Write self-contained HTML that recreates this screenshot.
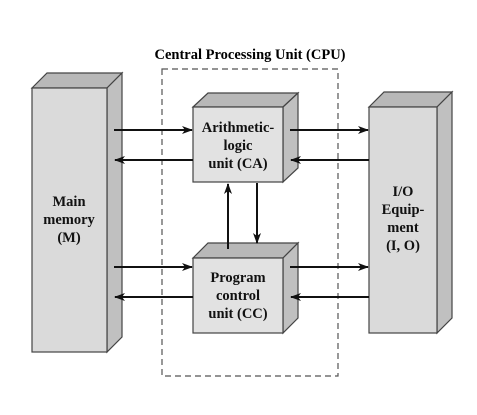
<!DOCTYPE html>
<html><head><style>
html,body{margin:0;padding:0;background:#fff;width:477px;height:415px;overflow:hidden}
</style></head><body>
<svg width="477" height="415" viewBox="0 0 477 415" xmlns="http://www.w3.org/2000/svg" font-family="Liberation Serif, serif" font-weight="bold" font-size="14.5">
<defs>
<marker id="a" markerWidth="11" markerHeight="8" refX="10" refY="4" orient="auto" markerUnits="userSpaceOnUse">
<path d="M0,0 L11,4 L0,8 L3,4 z" fill="#111"/></marker>
</defs>
<text x="250" y="59" text-anchor="middle" font-size="14.5">Central Processing Unit (CPU)</text>
<rect x="162" y="69" width="176" height="307" fill="none" stroke="#555" stroke-width="1.2" stroke-dasharray="6,4"/>
<g stroke="#444" stroke-width="1.2">
<polygon points="32,88 47,73 122,73 107,88" fill="#b8b8b8"/>
<polygon points="107,88 122,73 122,337 107,352" fill="#c0c0c0"/>
<rect x="32" y="88" width="75" height="264" fill="#dadada"/>
<polygon points="369,107 384,92 452,92 437,107" fill="#b8b8b8"/>
<polygon points="437,107 452,92 452,318 437,333" fill="#c0c0c0"/>
<rect x="369" y="107" width="68" height="226" fill="#dadada"/>
<polygon points="193,107 208,93 298,93 283,107" fill="#b8b8b8"/>
<polygon points="283,107 298,93 298,168 283,182" fill="#c0c0c0"/>
<rect x="193" y="107" width="90" height="75" fill="#e2e2e2"/>
<polygon points="193,258 208,243 298,243 283,258" fill="#b8b8b8"/>
<polygon points="283,258 298,243 298,318 283,333" fill="#c0c0c0"/>
<rect x="193" y="258" width="90" height="75" fill="#e2e2e2"/>
</g>
<g stroke="#111" stroke-width="2" marker-end="url(#a)">
<line x1="114" y1="130" x2="192" y2="130"/>
<line x1="193" y1="160" x2="115" y2="160"/>
<line x1="114" y1="267" x2="192" y2="267"/>
<line x1="193" y1="297" x2="115" y2="297"/>
<line x1="290" y1="130" x2="368" y2="130"/>
<line x1="369" y1="160" x2="291" y2="160"/>
<line x1="290" y1="267" x2="368" y2="267"/>
<line x1="369" y1="297" x2="291" y2="297"/>
<line x1="228" y1="249" x2="228" y2="184"/>
<line x1="257" y1="183" x2="257" y2="243"/>
</g>
<g text-anchor="middle" fill="#111">
<text x="69" y="206">Main</text><text x="69" y="224">memory</text><text x="69" y="242">(M)</text>
<text x="403" y="196">I/O</text><text x="403" y="214">Equip-</text><text x="403" y="232">ment</text><text x="403" y="250">(I, O)</text>
<text x="238" y="132">Arithmetic-</text><text x="238" y="150">logic</text><text x="238" y="168">unit (CA)</text>
<text x="238" y="282">Program</text><text x="238" y="300">control</text><text x="238" y="318">unit (CC)</text>
</g>
</svg>
</body></html>
